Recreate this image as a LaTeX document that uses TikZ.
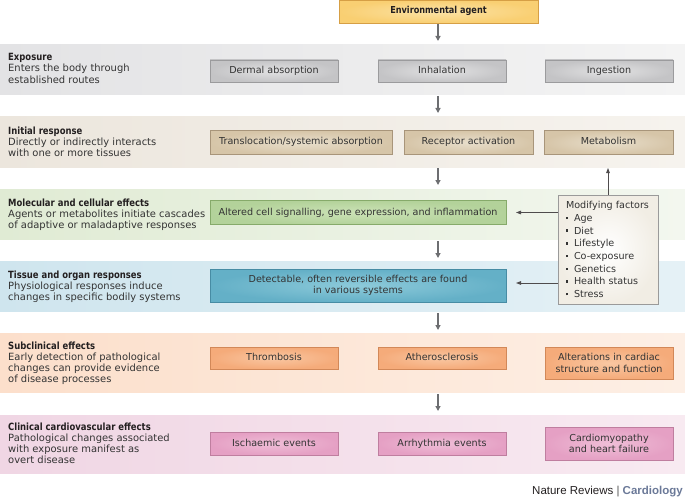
\documentclass[tikz,border=0pt]{standalone}
\usepackage{fontspec}
\setmainfont{DejaVu Sans}
\newfontfamily\titlefont[FakeStretch=0.85]{DejaVu Sans}
\newfontfamily\footfont{Liberation Sans}
\usetikzlibrary{arrows.meta}
\definecolor{txt}{HTML}{333333}
\definecolor{ttl}{HTML}{231F20}
\definecolor{arrowgray}{HTML}{6D6E71}
\definecolor{b1L}{HTML}{E3E3E5}\definecolor{b1R}{HTML}{F4F4F4}
\definecolor{b2L}{HTML}{ECE6DD}\definecolor{b2R}{HTML}{F6F3EE}
\definecolor{b3L}{HTML}{E0EBD4}\definecolor{b3R}{HTML}{F3F7EF}
\definecolor{b4L}{HTML}{CFE5EE}\definecolor{b4R}{HTML}{E5F1F6}
\definecolor{b5L}{HTML}{FCDFCB}\definecolor{b5R}{HTML}{FDEFE5}
\definecolor{b6L}{HTML}{F0D6E4}\definecolor{b6R}{HTML}{F8EAF1}
\definecolor{gyO}{HTML}{C4C4C6}\definecolor{gyI}{HTML}{E2E2E3}\definecolor{gyD}{HTML}{9B9B9D}
\definecolor{tnO}{HTML}{D6C5A8}\definecolor{tnI}{HTML}{E8DECB}\definecolor{tnD}{HTML}{A8957A}
\definecolor{grO}{HTML}{B3D29A}\definecolor{grI}{HTML}{CBE2B6}\definecolor{grD}{HTML}{86AA6A}
\definecolor{blO}{HTML}{64B0C7}\definecolor{blI}{HTML}{8DCADA}\definecolor{blD}{HTML}{478CA4}
\definecolor{orO}{HTML}{F5AB7A}\definecolor{orI}{HTML}{F9C7A2}\definecolor{orD}{HTML}{D28858}
\definecolor{pkO}{HTML}{E5A0C4}\definecolor{pkI}{HTML}{EFBED7}\definecolor{pkD}{HTML}{BF7E9F}
\definecolor{enO}{HTML}{F9CF72}\definecolor{enI}{HTML}{FCE3A6}\definecolor{enD}{HTML}{D69F45}
\definecolor{mdO}{HTML}{F1EDE4}\definecolor{mdI}{HTML}{FFFFFF}\definecolor{mdD}{HTML}{9A9A9A}
\definecolor{cardio}{HTML}{6B7998}
\definecolor{sepgray}{HTML}{555555}
\newcommand{\ttlx}[1]{{\titlefont\bfseries\color{ttl}#1}}
\newcommand{\blt}{\raisebox{2.2pt}{\rule{2.4pt}{2.4pt}}\hspace{5.6pt}}
\begin{document}
\begin{tikzpicture}[x=1pt,y=-1pt,
  basefont/.style={font=\fontsize{9.6}{11.2}\selectfont},
  lblfont/.style={font=\fontsize{9.95}{11.2}\selectfont},
  box/.style={basefont, draw, line width=0.6pt, inner sep=0pt, text=txt, align=center,
    minimum width=128pt, minimum height=22pt},
  onel/.style={text height=7.2pt, text depth=2.2pt},
  graybox/.style={box, onel, draw=gyD, inner color=gyI, outer color=gyO},
  tanbox/.style={box, onel, draw=tnD, inner color=tnI, outer color=tnO},
  greenbox/.style={box, onel, draw=grD, inner color=grI, outer color=grO},
  bluebox/.style={box, draw=blD, inner color=blI, outer color=blO},
  orangebox/.style={box, draw=orD, inner color=orI, outer color=orO},
  pinkbox/.style={box, draw=pkD, inner color=pkI, outer color=pkO},
  lbl/.style={lblfont, text=txt, align=left, inner sep=0pt, anchor=north west},
  flow/.style={draw=arrowgray, line width=1.5pt, -{Triangle[length=5pt,width=5pt]}},
  thinflow/.style={draw=ttl!80, line width=0.8pt, -{Triangle[length=5pt,width=3.6pt]}}
]
\useasboundingbox (0,0) rectangle (685,500);
% bands
\path[left color=b1L, right color=b1R] (0,45) rectangle (685,95);
\path[left color=b2L, right color=b2R] (0,117) rectangle (685,167);
\path[left color=b3L, right color=b3R] (0,189) rectangle (685,239);
\path[left color=b4L, right color=b4R] (0,261) rectangle (685,311);
\path[left color=b5L, right color=b5R] (0,333) rectangle (685,392);
\path[left color=b6L, right color=b6R] (0,415) rectangle (685,473);
% labels
\node[lbl] (L1) at (8,53.3) {\ttlx{Exposure}\\Enters the body through\\established routes};
\node[lbl] (L2) at (8,126.3) {\ttlx{Initial response}\\Directly or indirectly interacts\\with one or more tissues};
\node[lbl] (L3) at (8,198.3) {\ttlx{Molecular and cellular effects}\\Agents or metabolites initiate cascades\\of adaptive or maladaptive responses};
\node[lbl] (L4) at (8,270.3) {\ttlx{Tissue and organ responses}\\Physiological responses induce\\changes in specific bodily systems};
\node[lbl] (L5) at (8,341.3) {\ttlx{Subclinical effects}\\Early detection of pathological\\changes can provide evidence\\of disease processes};
\node[lbl] (L6) at (8,422.3) {\ttlx{Clinical cardiovascular effects}\\Pathological changes associated\\with exposure manifest as\\overt disease};
% boxes
\node[box, onel, draw=enD, inner color=enI, outer color=enO, minimum width=199pt, minimum height=23pt] (env) at (438.5,11.5) {\ttlx{Environmental agent}};
\node[graybox] (dermal) at (274,71) {Dermal absorption};
\node[graybox] (inhal) at (442,71) {Inhalation};
\node[graybox] (inges) at (609,71) {Ingestion};
\node[tanbox, minimum width=182pt, minimum height=24pt] (transl) at (301,142.5) {Translocation/systemic absorption};
\node[tanbox, minimum width=129pt, minimum height=24pt] (recep) at (468.5,142.5) {Receptor activation};
\node[tanbox, minimum width=129pt, minimum height=24pt] (metab) at (608.5,142.5) {Metabolism};
\node[greenbox, minimum width=296pt, minimum height=24pt] (alter) at (358,212.5) {Altered cell signalling, gene expression, and inflammation};
\node[bluebox, minimum width=296pt, minimum height=33pt] (detect) at (358,285.5) {Detectable, often reversible effects are found\\in various systems};
\node[orangebox, onel] (thromb) at (274,358) {Thrombosis};
\node[orangebox, onel] (ather) at (442,358) {Atherosclerosis};
\node[orangebox, minimum width=128pt, minimum height=32pt] (altcard) at (609,363) {Alterations in cardiac\\structure and function};
\node[pinkbox, onel, minimum height=23pt] (isch) at (274,443.5) {Ischaemic events};
\node[pinkbox, onel, minimum height=23pt] (arrh) at (442,443.5) {Arrhythmia events};
\node[pinkbox, minimum height=33pt] (cardmy) at (609,443.5) {Cardiomyopathy\\and heart failure};
% modifying factors
\node[draw=mdD, line width=0.6pt, inner color=mdI, outer color=mdO,
  font=\fontsize{9.6}{12.7}\selectfont, text=txt, align=left,
  minimum width=100pt, minimum height=109pt, text width=84pt, inner xsep=8pt, inner ysep=0pt] (mod) at (608,249.5)
  {Modifying factors\\\blt Age\\\blt Diet\\\blt Lifestyle\\\blt Co-exposure\\\blt Genetics\\\blt Health status\\\blt Stress};
% main arrows
\coordinate (a1s) at (438,24); \coordinate (a1e) at (438,41);
\coordinate (a2s) at (438,96); \coordinate (a2e) at (438,113);
\coordinate (a3s) at (438,168); \coordinate (a3e) at (438,185);
\coordinate (a4s) at (438,241); \coordinate (a4e) at (438,258);
\coordinate (a5s) at (438,313); \coordinate (a5e) at (438,330);
\coordinate (a6s) at (438,394); \coordinate (a6e) at (438,411);
\draw[flow] (a1s) -- (a1e);
\draw[flow] (a2s) -- (a2e);
\draw[flow] (a3s) -- (a3e);
\draw[flow] (a4s) -- (a4e);
\draw[flow] (a5s) -- (a5e);
\draw[flow] (a6s) -- (a6e);
% modifying factor arrows
\coordinate (upend) at (608,168);
\coordinate (m1) at (516,212.5);
\coordinate (m2) at (516,283);
\draw[thinflow] (mod.north) -- (upend);
\draw[thinflow] (mod.west |- m1) -- (m1);
\draw[thinflow] (mod.west |- m2) -- (m2);
% footer
\node[anchor=east, inner sep=0pt, font=\footfont\fontsize{11.5}{13}\selectfont, text=ttl] (foot) at (683,492)
  {Nature Reviews {\color{sepgray}|} {\bfseries\color{cardio}Cardiology}};
\end{tikzpicture}
\end{document}
